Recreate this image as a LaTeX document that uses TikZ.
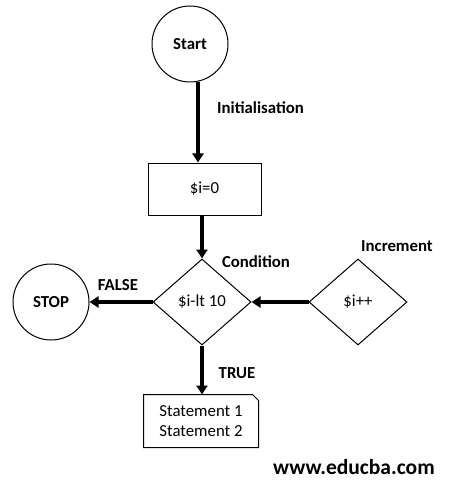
\documentclass[tikz,border=0pt]{standalone}
\usepackage{fontspec}
\setmainfont{Carlito}
\usetikzlibrary{shapes.geometric,arrows.meta}

\begin{document}
\begin{tikzpicture}[x=1pt,y=-1pt,
    flow/.style={line width=3.5pt,-{Triangle[length=9pt,width=11pt]}},
    lbl/.style={font=\fontsize{16.8}{20}\selectfont\bfseries, inner sep=0pt}]

        \useasboundingbox (0,0) rectangle (453,481);

        \begin{scope}[every node/.style={draw, line width=1pt, font=\fontsize{16.8}{20}\selectfont}]
          \node[circle, minimum size=76pt, font=\fontsize{16.8}{20}\selectfont\bfseries] (start) at (190,44)  {Start};
          \node[rectangle, minimum width=113pt, minimum height=52pt] (init) at (204.5,189) {\$i=0};
          \node[diamond, inner sep=0pt, minimum width=98pt, minimum height=86pt] (cond) at (202,302) {\$i-lt 10};
          \node[diamond, inner sep=0pt, minimum width=98pt, minimum height=86pt] (incr) at (358,302) {\$i++};
          \node[circle, minimum size=76pt, font=\fontsize{16.8}{20}\selectfont\bfseries] (stop) at (51,302) {STOP};
          \node[draw=none, minimum width=114pt, minimum height=52pt, align=left] (stmt) at (201,421) {Statement 1\\Statement 2};
        \end{scope}

        % dog-eared box round the statements
        \draw[line width=1pt] (stmt.south west) -- (stmt.north west) -- ([xshift=-6pt]stmt.north east)
          -- ([yshift=-6pt]stmt.north east) -- (stmt.south east) -- cycle;

        \draw[flow] (start.-78) -- (start.-78 |- init.north);
        \draw[flow] (init.south -| cond.north) -- (cond.north);
        \draw[flow] (cond.west) -- (stop.east);
        \draw[flow] (incr.west) -- (cond.east);
        \draw[flow] (cond.south) -- (cond.south |- stmt.north);

        \node[lbl, anchor=west] (initlbl) at (217,108) {Initialisation};
        \node[lbl] (condlbl) at (256,262) {Condition};
        \node[lbl] (incrlbl) at (397,246) {Increment};
        \node[lbl] (falselbl) at (118,285) {FALSE};
        \node[lbl] (truelbl) at (237,373) {TRUE};
        \node[lbl, font=\fontsize{21.5}{24}\selectfont\bfseries] (site) at (354,467) {www.educba.com};

      \end{tikzpicture}
\end{document}
